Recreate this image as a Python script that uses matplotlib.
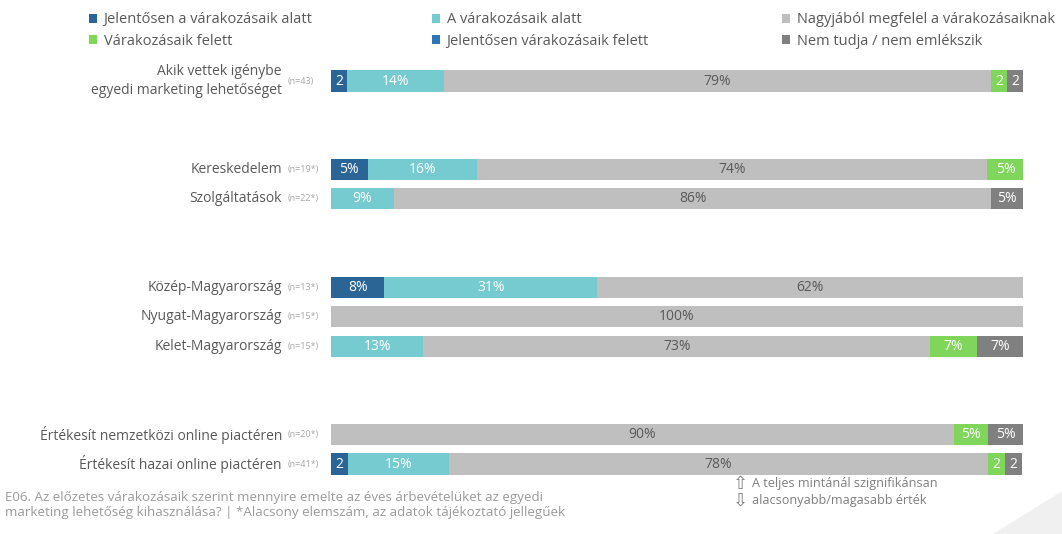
import matplotlib.pyplot as plt
from matplotlib.patches import Patch, Polygon

plt.rcParams['font.family'] = ['Open Sans', 'DejaVu Sans']

categories = [
    "Akik vettek igénybe\negyedi marketing lehetőséget",
    "Kereskedelem",
    "Szolgáltatások",
    "Közép-Magyarország",
    "Nyugat-Magyarország",
    "Kelet-Magyarország",
    "Értékesít nemzetközi online piactéren",
    "Értékesít hazai online piactéren",
]
sample_sizes = ["(n=43)", "(n=19*)", "(n=22*)", "(n=13*)",
                "(n=15*)", "(n=15*)", "(n=20*)", "(n=41*)"]
row_pos = [0, 3, 4, 7, 8, 9, 12, 13]

series_names = [
    "Jelentősen a várakozásaik alatt",
    "A várakozásaik alatt",
    "Nagyjából megfelel a várakozásaiknak",
    "Várakozásaik felett",
    "Jelentősen várakozásaik felett",
    "Nem tudja / nem emlékszik",
]
jel_alatt = [2.3, 5.3, 0, 7.7, 0, 0, 0, 2.4]
alatt = [14.0, 15.8, 9.1, 30.8, 0, 13.3, 0, 14.6]
megfelel = [79.1, 73.7, 86.3, 61.5, 100, 73.3, 90, 78.0]
felett = [2.3, 5.3, 0, 0, 0, 6.7, 5, 2.4]
jel_felett = [0, 0, 0, 0, 0, 0, 0, 0]
nem_tudja = [2.3, 0, 4.6, 0, 0, 6.7, 5, 2.4]

series = [jel_alatt, alatt, megfelel, felett, jel_felett, nem_tudja]
colors = ["#2B6596", "#76CBD0", "#BFBFBF", "#7FD65A", "#2E75B6", "#808080"]
label_colors = ["white", "white", "#595959", "white", "white", "white"]
text_grey = "#595959"

fig = plt.figure(figsize=(10.62, 5.34), dpi=100)
ax = fig.add_axes([0.3117, 0.0918, 0.6516, 0.7958])

left = [0.0] * len(row_pos)
for vals, col, lcol in zip(series, colors, label_colors):
    ax.barh(row_pos, vals, left=left, height=0.72, color=col, edgecolor="none")
    for y, l, v in zip(row_pos, left, vals):
        if v <= 0:
            continue
        txt = f"{v:.0f}" if v < 3 else f"{v:.0f}%"
        ax.text(l + v / 2, y, txt, ha="center", va="center",
                color=lcol, fontsize=10)
    left = [a + b for a, b in zip(left, vals)]

ax.set_xlim(0, 100)
ax.set_ylim(13.71, -0.713)
ax.axis("off")

# category labels with sample sizes
trans = ax.get_yaxis_transform()
for y, cat, n in zip(row_pos, categories, sample_sizes):
    ax.text(-0.071, y, cat, transform=trans, ha="right", va="center",
            fontsize=10, color=text_grey, linespacing=1.35)
    ax.text(-0.062, y, n, transform=trans, ha="left", va="center",
            fontsize=6.5, color="#A6A6A6")

# legend: one column per pair of series
col_x = [0.0838, 0.4068, 0.7363]
for k, x in enumerate(col_x):
    idx = [k, k + 3]
    leg = fig.legend([Patch(facecolor=colors[i], edgecolor="none") for i in idx],
                     [series_names[i] for i in idx],
                     loc="upper left", bbox_to_anchor=(x, 0.977),
                     frameon=False, fontsize=10.5, borderpad=0, borderaxespad=0,
                     handlelength=0.55, handleheight=0.55, handletextpad=0.45,
                     labelspacing=0.45, labelcolor=text_grey)

# question text
fig.text(0.005, 0.054, "E06. Az előzetes várakozásaik szerint mennyire emelte az éves "
         "árbevételüket az egyedi\nmarketing lehetőség kihasználása? | *Alacsony "
         "elemszám, az adatok tájékoztató jellegűek",
         ha="left", va="center", fontsize=9.6, color="#9A9A9A", linespacing=1.15)

# significance note
fig.text(0.690, 0.093, "⇧", family="DejaVu Sans", ha="left", va="center",
         fontsize=13, color="#7F7F7F")
fig.text(0.690, 0.062, "⇩", family="DejaVu Sans", ha="left", va="center",
         fontsize=13, color="#7F7F7F")
fig.text(0.708, 0.094, "A teljes mintánál szignifikánsan", ha="left", va="center",
         fontsize=9.1, color="#7F7F7F")
fig.text(0.708, 0.063, "alacsonyabb/magasabb érték", ha="left", va="center",
         fontsize=9.1, color="#7F7F7F")

# corner decoration
fig.patches.append(Polygon([(0.935, 0.0), (1.0, 0.08), (1.0, 0.0)],
                           closed=True, transform=fig.transFigure,
                           facecolor="#F0F0F0", edgecolor="none", zorder=0))

fig.savefig("out.png", dpi=100)
